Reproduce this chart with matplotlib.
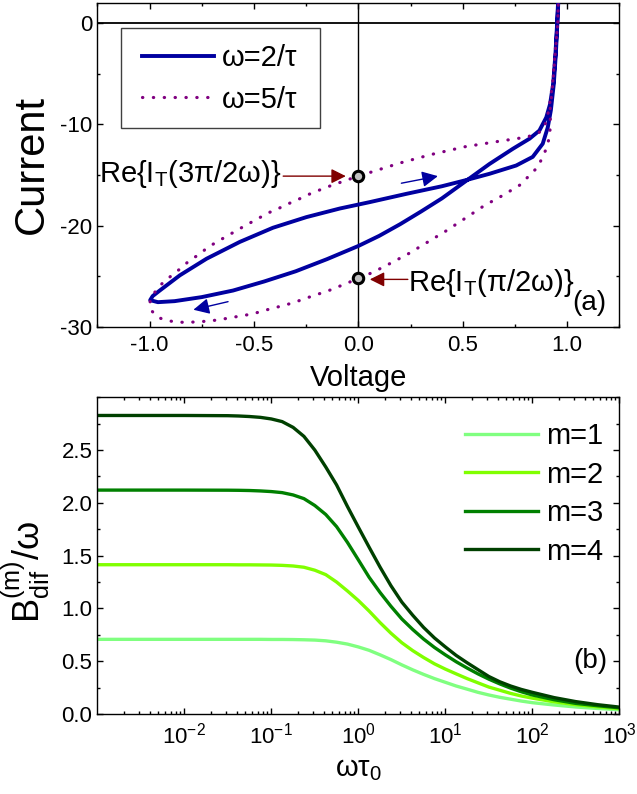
import matplotlib
matplotlib.use('Agg')
import matplotlib.pyplot as plt
import numpy as np
from matplotlib.patches import Rectangle
from matplotlib.ticker import MultipleLocator, LogLocator, NullFormatter, FixedLocator, FixedFormatter

plt.rcParams['font.family'] = ['Liberation Sans', 'DejaVu Sans']
plt.rcParams['mathtext.fontset'] = 'custom'
plt.rcParams['mathtext.rm'] = 'Liberation Sans'
plt.rcParams['mathtext.it'] = 'Liberation Sans:italic'
plt.rcParams['mathtext.bf'] = 'Liberation Sans:bold'
plt.rcParams['axes.unicode_minus'] = False

# ---------------- Panel (a) data: Current vs Voltage loops ----------------
v_w2 = [0.957, 0.952, 0.944, 0.933, 0.918, 0.900, 0.867, 0.820, 0.740, 0.628,
        0.524, 0.400, 0.300, 0.200, 0.100, 0.000, -0.150, -0.300, -0.450, -0.600,
        -0.750, -0.880, -0.960, -0.997, -0.985, -0.951, -0.855, -0.727, -0.568, -0.409,
        -0.249, -0.089, 0.054, 0.230, 0.400, 0.524, 0.628, 0.756, 0.835, 0.883,
        0.907, 0.922, 0.936, 0.946, 0.953, 0.958]
i_w2 = [2.3, 0.0, -3.0, -6.0, -8.0, -9.3, -10.6, -11.4, -12.4, -13.9,
        -15.45, -17.3, -18.6, -19.85, -21.0, -22.0, -23.3, -24.5, -25.5, -26.4,
        -27.05, -27.45, -27.55, -27.35, -26.95, -26.4, -24.9, -23.26, -21.6, -20.2,
        -19.15, -18.3, -17.67, -16.85, -16.1, -15.45, -14.87, -14.05, -13.2, -11.9,
        -10.3, -8.6, -6.0, -3.0, 0.0, 2.3]

v_w5 = [0.958, 0.955, 0.944, 0.931, 0.918, 0.920, 0.915, 0.900, 0.860, 0.820,
        0.780, 0.692, 0.604, 0.509, 0.421, 0.333, 0.237, 0.150, 0.070, 0.000,
        -0.057, -0.105, -0.153, -0.200, -0.249, -0.297, -0.344, -0.400, -0.456, -0.504,
        -0.560, -0.616, -0.670, -0.720, -0.774, -0.830, -0.875, -0.920, -0.960, -0.990,
        -1.000, -0.990, -0.965, -0.935, -0.887, -0.847, -0.807, -0.759, -0.720, -0.672,
        -0.629, -0.584, -0.536, -0.488, -0.440, -0.392, -0.344, -0.297, -0.249, -0.201,
        -0.153, -0.105, -0.057, 0.000, 0.100, 0.200, 0.350, 0.510, 0.660, 0.804,
        0.860, 0.891, 0.912, 0.930, 0.943, 0.955, 0.958]
i_w5 = [2.3, 0.0, -2.7, -6.0, -8.6, -10.0, -11.25, -12.4, -14.2, -15.0,
        -15.9, -17.0, -18.0, -19.3, -20.5, -21.6, -22.8, -23.75, -24.6, -25.2,
        -25.7, -26.1, -26.5, -26.8, -27.15, -27.5, -27.8, -28.1, -28.4, -28.7,
        -28.9, -29.1, -29.3, -29.42, -29.5, -29.55, -29.5, -29.35, -29.05, -28.4,
        -27.7, -27.0, -26.3, -25.6, -24.8, -24.15, -23.4, -22.8, -22.1, -21.55,
        -21.0, -20.5, -19.9, -19.4, -18.8, -18.4, -17.9, -17.5, -17.0, -16.6,
        -16.2, -15.85, -15.5, -15.1, -14.45, -13.8, -12.96, -12.2, -11.7, -11.25,
        -10.9, -10.27, -8.6, -6.0, -2.7, 0.0, 2.3]

mark_v = [0.0, 0.0]
mark_i = [-15.1, -25.2]

labels_a = ['ω=2/τ', 'ω=5/τ']
text_upper = r'Re{I$_\mathregular{T}$(3π/2ω)}'
text_lower = r'Re{I$_\mathregular{T}$(π/2ω)}'

# ---------------- Panel (b) data: B_dif/omega vs omega tau0 ----------------
wt = [0.001, 0.01, 0.0316, 0.0422, 0.0562, 0.075, 0.1, 0.133, 0.178, 0.237,
      0.316, 0.422, 0.562, 0.75, 1.0, 1.33, 1.78, 2.37, 3.16, 4.22,
      5.62, 7.5, 10.0, 13.3, 17.8, 23.7, 31.6, 42.2, 56.2, 75.0,
      100.0, 178.0, 316.0, 562.0, 1000.0]
b_m1 = [0.707, 0.707, 0.707, 0.707, 0.707, 0.707, 0.706, 0.706, 0.705, 0.703,
        0.700, 0.693, 0.680, 0.662, 0.635, 0.603, 0.560, 0.515, 0.465, 0.418,
        0.375, 0.335, 0.300, 0.265, 0.235, 0.205, 0.180, 0.158, 0.140, 0.122,
        0.107, 0.085, 0.066, 0.052, 0.040]
b_m2 = [1.414, 1.414, 1.414, 1.413, 1.413, 1.412, 1.411, 1.408, 1.402, 1.390,
        1.362, 1.320, 1.250, 1.165, 1.075, 0.975, 0.865, 0.765, 0.675, 0.600,
        0.535, 0.475, 0.425, 0.380, 0.335, 0.295, 0.255, 0.225, 0.195, 0.170,
        0.150, 0.115, 0.088, 0.068, 0.050]
b_m3 = [2.121, 2.121, 2.120, 2.119, 2.117, 2.113, 2.107, 2.097, 2.075, 2.040,
        1.975, 1.890, 1.775, 1.625, 1.460, 1.295, 1.150, 1.020, 0.900, 0.800,
        0.710, 0.630, 0.560, 0.495, 0.435, 0.380, 0.330, 0.285, 0.245, 0.210,
        0.180, 0.135, 0.100, 0.078, 0.058]
b_m4 = [2.828, 2.828, 2.826, 2.823, 2.818, 2.810, 2.795, 2.770, 2.715, 2.630,
        2.500, 2.340, 2.170, 1.965, 1.770, 1.580, 1.390, 1.215, 1.060, 0.935,
        0.820, 0.720, 0.635, 0.555, 0.485, 0.420, 0.355, 0.305, 0.265, 0.232,
        0.205, 0.155, 0.117, 0.088, 0.065]
labels_b = ['m=1', 'm=2', 'm=3', 'm=4']
colors_b = ['#80FF80', '#80FF00', '#008000', '#004000']
xticks_b = [1e-2, 1e-1, 1e0, 1e1, 1e2, 1e3]
xticklabels_b = [r'$\mathregular{10^{-2}}$', r'$\mathregular{10^{-1}}$', r'$\mathregular{10^{0}}$',
                 r'$\mathregular{10^{1}}$', r'$\mathregular{10^{2}}$', r'$\mathregular{10^{3}}$']

# ---------------- Figure ----------------
fig = plt.figure(figsize=(6.37, 7.94), dpi=100)
ax1 = fig.add_axes([0.1528, 0.5882, 0.8195, 0.4080])
ax2 = fig.add_axes([0.1528, 0.1008, 0.8195, 0.3988])

blue = '#0000A0'
purple = '#800080'
dred = '#800000'

ax1.axhline(0, color='k', lw=1.3, zorder=1)
ax1.axvline(0, color='k', lw=1.0, zorder=1)
ax1.plot(v_w2, i_w2, color=blue, lw=2.8, solid_joinstyle='round', label=labels_a[0], zorder=3)
ax1.plot(v_w5, i_w5, color=purple, lw=2.3, ls=(0, (0.1, 3.3)), dash_capstyle='round',
         label=labels_a[1], zorder=4)
ax1.plot(mark_v, mark_i, 'o', ms=7.5, mfc='#C0C0C0', mec='k', mew=2.2, zorder=6)

arrow_blue = dict(arrowstyle='-|>', color=blue, lw=1.0, mutation_scale=24, shrinkA=0, shrinkB=0)
ax1.annotate('', xy=(0.381, -15.1), xytext=(0.206, -15.8), arrowprops=arrow_blue, zorder=5)
ax1.annotate('', xy=(-0.79, -28.3), xytext=(-0.624, -27.5), arrowprops=arrow_blue, zorder=5)

arrow_red = dict(arrowstyle='-|>', color=dred, lw=1.0, mutation_scale=22, shrinkA=0, shrinkB=0)
ax1.annotate('', xy=(-0.06, -15.1), xytext=(-0.36, -15.1), arrowprops=arrow_red, zorder=5)
ax1.annotate('', xy=(0.055, -25.3), xytext=(0.237, -25.3), arrowprops=arrow_red, zorder=5)
ax1.text(-0.368, -15.7, text_upper, fontsize=21, ha='right', va='baseline')
ax1.text(0.237, -26.4, text_lower, fontsize=21, ha='left', va='baseline')
ax1.text(1.107, -27.6, '(a)', fontsize=20, ha='center', va='center')

ax1.set_xlim(-1.25, 1.25)
ax1.set_ylim(-30, 2)
ax1.xaxis.set_major_locator(MultipleLocator(0.5))
ax1.xaxis.set_minor_locator(MultipleLocator(0.25))
ax1.set_yticks([-30, -20, -10, 0])
ax1.yaxis.set_minor_locator(MultipleLocator(5))

# legend frame drawn as a plain rectangle, legend itself frameless
ax1.add_patch(Rectangle((0.0448, 0.613), 0.3818, 0.309, transform=ax1.transAxes,
                        fill=True, facecolor='white', edgecolor='#404040', lw=1.0, zorder=7))
leg1 = ax1.legend(loc='upper left', bbox_to_anchor=(0.085, 0.872), borderaxespad=0,
                  frameon=False, fontsize=21, handlelength=2.47, handletextpad=0.29,
                  borderpad=0, labelspacing=0.45)
leg1.set_zorder(8)

ax1.set_xlabel('Voltage', fontsize=21, va='top')
ax1.xaxis.set_label_coords(0.5, -0.114)
ax1.set_ylabel('Current', fontsize=30, va='center')
ax1.yaxis.set_label_coords(-0.125, 0.5)

# Panel (b)
for vals, c, lab in zip([b_m1, b_m2, b_m3, b_m4], colors_b, labels_b):
    ax2.plot(wt, vals, color=c, lw=2.4, label=lab, solid_joinstyle='round')
ax2.set_xscale('log')
ax2.set_xlim(1e-3, 1e3)
ax2.set_ylim(0, 3)
ax2.xaxis.set_major_locator(FixedLocator(xticks_b))
ax2.xaxis.set_major_formatter(FixedFormatter(xticklabels_b))
ax2.xaxis.set_minor_locator(LogLocator(base=10, subs=np.arange(2, 10), numticks=100))
ax2.xaxis.set_minor_formatter(NullFormatter())
ax2.set_yticks([0, 0.5, 1.0, 1.5, 2.0, 2.5])
ax2.yaxis.set_minor_locator(MultipleLocator(0.25))

leg2 = ax2.legend(loc='upper right', bbox_to_anchor=(0.969, 0.922), borderaxespad=0,
                  frameon=False, fontsize=21, handlelength=2.5, handletextpad=0.27,
                  borderpad=0, labelspacing=0.36)
ax2.text(460, 0.50, '(b)', fontsize=20, ha='center', va='center')

ax2.set_xlabel(r'$\mathregular{\omega\tau_0}$', fontsize=21, va='top')
ax2.xaxis.set_label_coords(0.5, -0.13)
ax2.set_ylabel(r'$\mathregular{B_{dif}^{(m)}/\omega}$', fontsize=26, va='center')
ax2.yaxis.set_label_coords(-0.137, 0.45)

for ax in (ax1, ax2):
    ax.tick_params(which='both', direction='in', top=True, right=True, width=1.0,
                   labelsize=16, colors='k')
    ax.tick_params(which='major', length=4.0)
    ax.tick_params(which='minor', length=2.5)
    ax.tick_params(axis='x', which='major', pad=6)
    ax.tick_params(axis='y', which='major', pad=3.5)
    for s in ax.spines.values():
        s.set_linewidth(1.0)

fig.savefig('out.png', dpi=100)
